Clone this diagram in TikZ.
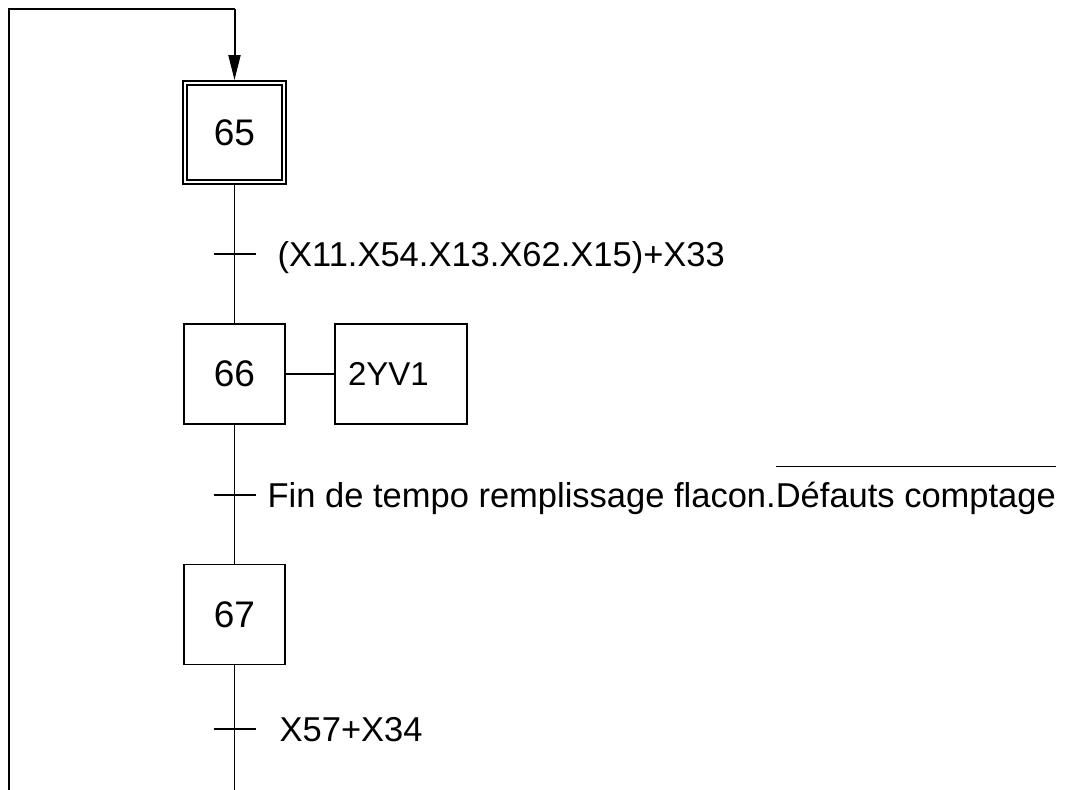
\documentclass[tikz,border=0pt]{standalone}
\usepackage{fontspec}
\setmainfont{Liberation Sans}
\usetikzlibrary{arrows.meta,positioning}
% overline for a negated receptivity
\newcommand{\barre}[1]{\vbox{\hrule height 1.2pt\kern 15pt\hbox{#1}}}

\begin{document}
\begin{tikzpicture}[x=1pt, y=1pt, line width=1.3pt,
  etape/.style={draw, minimum width=101pt, minimum height=100pt, inner sep=0pt,
    font=\fontsize{37}{44}\selectfont},
  initiale/.style={etape, minimum width=99pt, minimum height=99pt, line width=1.8pt,
    double, double distance=2.4pt, outer sep=3pt},
  action/.style={draw, minimum width=132pt, minimum height=100pt, inner xsep=13pt,
    text width=106pt, align=left, font=\fontsize{33}{40}\selectfont},
  recept/.style={anchor=base west, inner sep=0pt, font=\fontsize{34.5}{41}\selectfont},
  barreau/.style={line width=1.5pt},
  fleche/.style={-{Triangle[length=25pt, width=12pt]}, line width=2pt}]

  \def\tick{21} % half width of a transition bar

  % frame of the page
  \useasboundingbox (0,0) rectangle (1066,-790);

  % Steps
  \node[initiale] (e65) at (234.5,-132.5) {65};
  \node[etape] (e66) at (234.5,-374) {66};
  \node[etape] (e67) at (234.5,-614.5) {67};

  % Action of step 66
  \node[action] (a66) at (401,-374) {2YV1};

  % Transitions
  \coordinate (t1) at (234.5,-254);
  \coordinate (t2) at (234.5,-495);
  \coordinate (t3) at (234.5,-729);
  \coordinate (fin) at (234.5,-790);
  \coordinate (retour) at (9,-790);
  \coordinate (coin) at (234.5,-9);

  % Links
  \draw (e65) -- (e66);
  \draw (e66) -- (e67);
  \draw (e67) -- (fin);
  \draw (e66) -- (a66);
  \draw (retour) |- (coin);
  \draw[fleche] (coin) -- (e65);

  \foreach \t in {t1,t2,t3}
    \draw[barreau] (\t) ++(-\tick,0) -- ++(2*\tick,0);

  % Receptivities
  \node[recept] (r1) at (277,-266.5) {(X11.X54.X13.X62.X15)+X33};
  \node[recept] (r2) at (267,-507.5) {Fin de tempo remplissage flacon.\barre{Défauts comptage}};
  \node[recept] (r3) at (279,-741.5) {X57+X34};

\end{tikzpicture}
\end{document}
